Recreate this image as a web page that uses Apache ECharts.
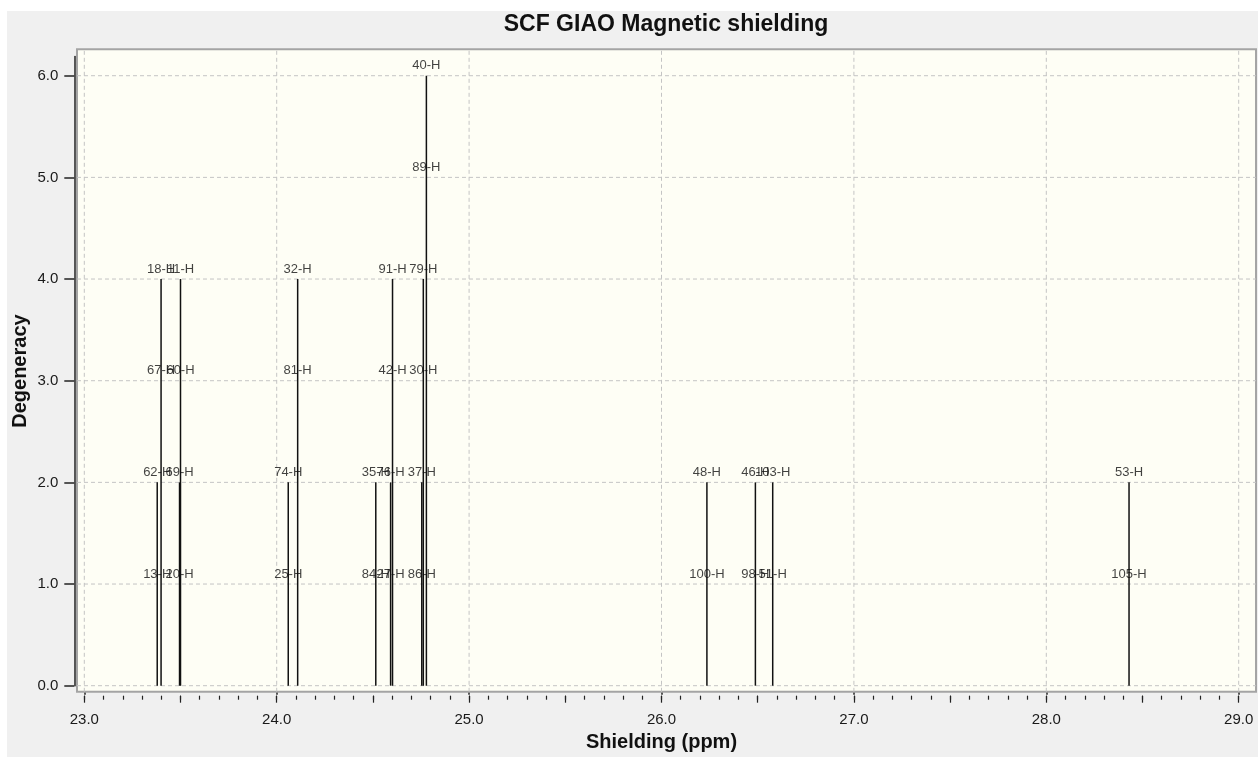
<!DOCTYPE html>
<html>
<head>
<meta charset="utf-8">
<title>SCF GIAO Magnetic shielding</title>
<script src="https://cdn.jsdelivr.net/npm/echarts@6/dist/echarts.min.js"></script>
<style>
  html, body { margin: 0; padding: 0; background: #fff; }
  #chart { width: 1258px; height: 757px; }
</style>
</head>
<body>
<div id="chart"></div>
<script>
// shielding of each stick (ppm)
const shifts = [23.379, 23.399, 23.495, 23.500, 24.060, 24.109, 24.515, 24.592,
  24.602, 24.754, 24.762, 24.778, 26.236, 26.488, 26.578, 28.430];
// top of each stick (stacked degeneracy)
const tops = [2, 4, 2, 4, 2, 4, 2, 2, 4, 2, 4, 6, 2, 2, 2, 2];
// atoms of each stick, bottom to top
const atoms = [
  ['13-H', '62-H'], ['67-H', '18-H'], ['20-H', '69-H'], ['60-H', '11-H'],
  ['25-H', '74-H'], ['81-H', '32-H'], ['84-H', '35-H'], ['27-H', '76-H'],
  ['42-H', '91-H'], ['86-H', '37-H'], ['30-H', '79-H'], ['89-H', '40-H'],
  ['100-H', '48-H'], ['98-H', '46-H'], ['51-H', '103-H'], ['105-H', '53-H']
];
const xTicks = [23, 24, 25, 26, 27, 28, 29];
const yTicks = [0, 1, 2, 3, 4, 5, 6];
// plot frame extent, in axis units
const frameX = [22.962, 29.09];
const frameY = [-0.06, 6.26];

const FONT = '"Liberation Sans", Arial, sans-serif';

let chart = echarts.init(document.getElementById('chart'));

// one label per atom, stacked under the top of its stick
let labelData = [];
shifts.forEach((x, i) => {
  let n = atoms[i].length;
  atoms[i].forEach((name, k) => {
    labelData.push([x, tops[i] - n + 1 + k, name]);
  });
});

// extra bottom axis that only draws ticks
function tickAxis(interval, len) {
  return {
    type: 'value', position: 'bottom', min: 23, max: 29, interval: interval, offset: 10,
    axisLine: {show: false},
    axisTick: {show: true, length: len, lineStyle: {color: '#222', width: 1.2}},
    axisLabel: {show: false},
    splitLine: {show: false}
  };
}

let option = {
  backgroundColor: '#ffffff',
  animation: false,
  graphic: [
    {
      type: 'rect', z: -10, silent: true,
      shape: {x: 7, y: 11, width: 1251, height: 746},
      style: {fill: '#f0f0f0'}
    },
    {
      type: 'text', x: 666, y: 25, silent: true,
      style: {
        text: 'SCF GIAO Magnetic shielding',
        font: 'bold 23px ' + FONT,
        fill: '#111',
        align: 'center',
        verticalAlign: 'middle'
      }
    }
  ],
  grid: {left: 84.3, right: 19.3, top: 56.4, bottom: 71.3, outerBoundsMode: 'none'},
  xAxis: [
    {
      type: 'value', position: 'bottom', min: 23, max: 29, interval: 1, offset: 10,
      axisLine: {show: true, lineStyle: {color: '#222', width: 1.5}},
      axisTick: {show: true, length: 9, lineStyle: {color: '#222', width: 1.5}},
      axisLabel: {margin: 17, fontSize: 15, color: '#1a1a1a', fontFamily: FONT, formatter: v => v.toFixed(1)},
      splitLine: {show: false},
      name: 'Shielding (ppm)', nameLocation: 'middle', nameGap: 33,
      nameTextStyle: {fontSize: 20, fontWeight: 'bold', color: '#111', fontFamily: FONT}
    },
    tickAxis(0.5, 7),
    tickAxis(0.1, 4)
  ],
  yAxis: {
    type: 'value', min: 0, max: 6.19, interval: 1, offset: 10,
    axisLine: {show: true, lineStyle: {color: '#222', width: 1.5}},
    axisTick: {show: true, length: 10, customValues: yTicks, lineStyle: {color: '#222', width: 1.5}},
    axisLabel: {
      margin: 16, fontSize: 15, color: '#1a1a1a', fontFamily: FONT, customValues: yTicks,
      formatter: v => Number.isInteger(v) ? v.toFixed(1) : ''
    },
    splitLine: {show: false},
    name: 'Degeneracy', nameLocation: 'middle', nameGap: 44, nameMoveOverlap: false,
    nameTextStyle: {fontSize: 20, fontWeight: 'bold', color: '#111', fontFamily: FONT}
  },
  series: [
    // plot frame
    {
      type: 'custom', z: 1, silent: true, clip: false,
      data: [[frameX[0], frameY[0], frameX[1], frameY[1]]],
      renderItem: (params, api) => {
        let p0 = api.coord([api.value(0), api.value(1)]);
        let p1 = api.coord([api.value(2), api.value(3)]);
        return {
          type: 'rect',
          shape: {x: p0[0], y: p1[1], width: p1[0] - p0[0], height: p0[1] - p1[1]},
          style: {fill: '#fefef5', stroke: '#a4a4a4', lineWidth: 2}
        };
      }
    },
    // vertical dashed grid
    {
      type: 'custom', z: 2, silent: true, clip: false,
      data: xTicks.map(v => [v, 0]),
      renderItem: (params, api) => {
        let a = api.coord([api.value(0), frameY[0]]);
        let b = api.coord([api.value(0), frameY[1]]);
        return {
          type: 'line',
          shape: {x1: a[0], y1: a[1], x2: b[0], y2: b[1]},
          style: {stroke: '#c4c4c4', lineWidth: 1, lineDash: [4, 3]}
        };
      }
    },
    // horizontal dashed grid
    {
      type: 'custom', z: 2, silent: true, clip: false,
      data: yTicks.map(v => [23, v]),
      renderItem: (params, api) => {
        let a = api.coord([frameX[0], api.value(1)]);
        let b = api.coord([frameX[1], api.value(1)]);
        return {
          type: 'line',
          shape: {x1: a[0], y1: a[1], x2: b[0], y2: b[1]},
          style: {stroke: '#c4c4c4', lineWidth: 1, lineDash: [4, 3]}
        };
      }
    },
    // sticks
    {
      type: 'custom', z: 3, silent: true, clip: false,
      data: shifts.map((x, i) => [x, tops[i]]),
      renderItem: (params, api) => {
        let p0 = api.coord([api.value(0), 0]);
        let p1 = api.coord([api.value(0), api.value(1)]);
        return {
          type: 'line',
          shape: {x1: p0[0], y1: p0[1], x2: p1[0], y2: p1[1]},
          style: {stroke: '#111', lineWidth: 1.5}
        };
      }
    },
    // atom labels
    {
      type: 'scatter', z: 5, silent: true,
      symbolSize: 1,
      itemStyle: {color: 'rgba(0,0,0,0)'},
      data: labelData,
      label: {
        show: true, position: 'top', distance: 3,
        fontSize: 13, color: '#111', fontFamily: FONT,
        formatter: p => p.value[2]
      }
    }
  ]
};

chart.setOption(option);
</script>
</body>
</html>
